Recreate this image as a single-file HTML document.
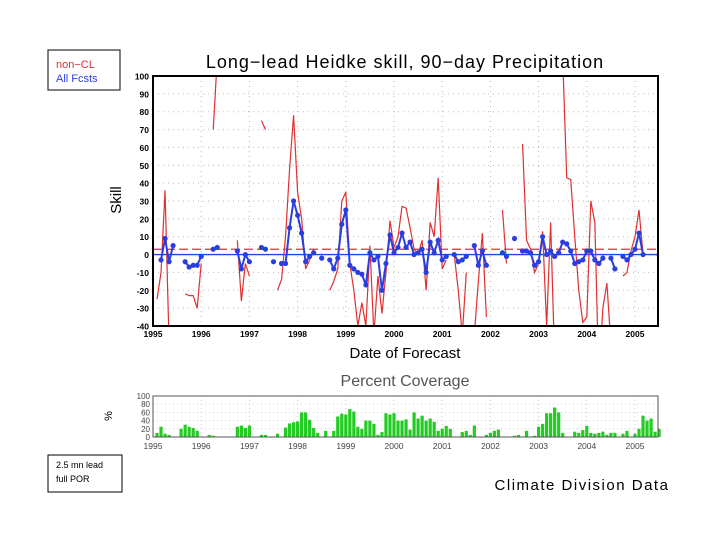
<!DOCTYPE html>
<html><head><meta charset="utf-8"><style>
body{margin:0;background:#fff;font-family:"Liberation Sans",sans-serif}
</style></head><body>
<svg id="c" width="720" height="540" xmlns="http://www.w3.org/2000/svg" font-family="Liberation Sans, sans-serif">
<rect width="720" height="540" fill="#fff"/>
<text x="405" y="68" font-size="18" text-anchor="middle" letter-spacing="1">Long−lead Heidke skill, 90−day Precipitation</text>
<g>
<rect x="48" y="50" width="72" height="40" fill="none" stroke="#000"/>
<text x="56" y="68" font-size="11" fill="#e03030">non−CL</text>
<text x="56" y="82" font-size="11" fill="#3040e0">All Fcsts</text>
</g>
<text transform="translate(121,200) rotate(-90)" font-size="15" text-anchor="middle">Skill</text>
<text x="405" y="358" font-size="15" text-anchor="middle">Date of Forecast</text>
<text x="405" y="386" font-size="16" fill="#555" text-anchor="middle">Percent Coverage</text>
<text transform="translate(112,416) rotate(-90)" font-size="11" text-anchor="middle">%</text>
<g>
<rect x="48" y="455" width="74" height="37" fill="none" stroke="#000"/>
<text x="56" y="468" font-size="9">2.5 mn lead</text>
<text x="56" y="482" font-size="9">full POR</text>
</g>
<text x="582" y="490" font-size="15" text-anchor="middle" letter-spacing="1.5">Climate Division Data</text>
<g id="main"></g>
<g id="cov"></g>
</svg>
<script>
const years=["1995","1996","1997","1998","1999","2000","2001","2002","2003","2004","2005"];
const skillTicks=[-40,-30,-20,-10,0,10,20,30,40,50,60,70,80,90,100];
const covTicks=[0,20,40,60,80,100];
const _=null;
const allFcsts=[_,_,-3,9,-4,5,_,_,-4,-7,-6,-6,-1,_,_,3,4,_,_,_,_,2,-8,0,-4,_,_,4,3,_,-4,_,-5,-5,15,30,22,12,-4,-1,1,_,-2,_,-3,-8,-2,17,25,-6,-8,-10,-11,-17,1,-3,-1,-20,-5,11,1,4,12,4,7,0,1,3,-10,7,1,8,-3,-1,_,0,-4,-3,-1,_,5,-6,2,-6,_,_,_,1,-1,_,9,_,2,2,1,-6,-4,10,0,2,-1,1,7,6,2,-5,-4,-3,2,2,-3,-5,-2,_,-2,-8,_,-1,-3,0,3,12,0,_,_,_,0];
const nonCL=[_,-25,-10,36,-50,_,_,_,-22,-23,-23,-30,-5,_,_,70,110,_,_,_,_,8,-26,-5,-12,_,_,75,70,_,_,-20,-14,10,48,78,35,20,-8,-3,3,_,_,_,-20,-15,-8,30,35,-5,-20,-40,-27,-40,5,-45,-12,-33,-10,19,4,10,27,26,15,3,0,8,-20,18,10,43,-8,-3,_,0,-20,-45,-10,_,-45,-15,12,-35,_,_,_,25,-5,_,_,_,62,8,3,-10,-5,13,-40,18,-60,_,110,43,42,10,-20,-38,-35,30,18,-70,-30,-16,-50,_,_,-12,-10,2,10,25,0,_,_,_,_];
const coverage=[0,10,25,8,5,0,0,20,30,25,22,15, 0,0,5,3,0,0,0,0,0,25,28,22, 28,0,0,5,5,0,0,8,0,23,33,36, 38,60,60,42,22,10,0,15,0,15,50,57, 55,68,62,25,20,40,40,32,5,12,58,55, 58,40,40,43,18,60,45,52,40,45,37,15, 20,27,20,0,0,12,15,5,28,0,0,5, 10,15,18,0,0,0,3,5,0,15,0,3, 25,32,58,58,72,60,10,0,0,13,10,17, 27,10,8,10,13,5,10,10,0,8,15,0, 8,20,52,40,45,13,20];
const meanNonCL=3, meanAll=0;

const NS="http://www.w3.org/2000/svg";
const X0=153,X1=658,YR=48.2;
const xm=m=>X0+m*YR/12;
const yS=v=>76+(100-v)*250/140;
const yC=v=>437-v*41/100;
function mk(t,a,p){const e=document.createElementNS(NS,t);for(const k in a)e.setAttribute(k,a[k]);p.appendChild(e);return e;}
const main=document.getElementById('main'), cov=document.getElementById('cov');
const cp=mk('clipPath',{id:'cp'},main);mk('rect',{x:X0,y:76,width:X1-X0,height:250},cp);
// grid
skillTicks.forEach(v=>{
 if(v>-40&&v<100){const g=mk('line',{x1:X0,x2:X1,y1:yS(v),y2:yS(v),stroke:'#bbb','stroke-dasharray':'1,4'},main);
 
 }
 const t=mk('text',{x:X0-4,y:yS(v)+3.5,'font-size':'8.5','font-weight':'bold','text-anchor':'end'},main);t.textContent=v;
 
 
});
years.forEach((y,i)=>{
 const x=X0+i*YR;
 if(i>0){const g=mk('line',{x1:x,x2:x,y1:76,y2:326,stroke:'#bbb','stroke-dasharray':'1,4'},main);
 
 }
 const t=mk('text',{x:x,y:337,'font-size':'8.5','font-weight':'bold','text-anchor':'middle'},main);t.textContent=y;
 
 
 const t2=mk('text',{x:x,y:449,'font-size':'8.5',fill:'#444','text-anchor':'middle'},cov);t2.textContent=y;
 
 
 if(i>0){const g2=mk('line',{x1:x,x2:x,y1:396,y2:437,stroke:'#ccc','stroke-dasharray':'1,3'},cov);
 
 }
});
function segs(arr){const out=[];let cur=[];arr.forEach((v,i)=>{if(v===null){if(cur.length)out.push(cur);cur=[];}else cur.push([xm(i),yS(v)]);});if(cur.length)out.push(cur);return out;}
const lines=mk('g',{'clip-path':'url(#cp)'},main);
const ml1=mk('line',{x1:X0,x2:X1,y1:yS(meanNonCL),y2:yS(meanNonCL),stroke:'#e03030','stroke-width':1.3,'stroke-dasharray':'9,4'},lines);


const ml2=mk('line',{x1:X0,x2:X1,y1:yS(meanAll),y2:yS(meanAll),stroke:'#3040e0','stroke-width':1.3},lines);


segs(nonCL).forEach(s=>{
 if(s.length>1){const p=mk('polyline',{points:s.map(q=>q.join(',')).join(' '),fill:'none',stroke:'#e03030','stroke-width':1.2},lines);
 
 }
});
segs(allFcsts).forEach(s=>{
 if(s.length>1){const p=mk('polyline',{points:s.map(q=>q.join(',')).join(' '),fill:'none',stroke:'#2a3ee0','stroke-width':2},lines);
 
 }
});
allFcsts.forEach((v,i)=>{if(v===null)return;
 const c=mk('circle',{cx:xm(i),cy:yS(v),r:2.6,fill:'#2a3ee0'},lines);
 
 
});
const fr=mk('rect',{x:X0,y:76,width:X1-X0,height:250,fill:'none',stroke:'#000','stroke-width':2},main);


// coverage
covTicks.forEach(v=>{
 if(v>0&&v<100){const g=mk('line',{x1:X0,x2:X1,y1:yC(v),y2:yC(v),stroke:'#ccc','stroke-dasharray':'1,3'},cov);
 
 }
 const t=mk('text',{x:X0-3,y:yC(v)+3,'font-size':'8',fill:'#444','text-anchor':'end'},cov);t.textContent=v;
 
 
});
coverage.forEach((v,i)=>{if(!v)return;
 const b=mk('rect',{x:xm(i)-1.6,y:yC(v),width:3.2,height:437-yC(v),fill:'#22cc22'},cov);
 
 
});
const cf=mk('rect',{x:X0,y:396,width:X1-X0,height:41,fill:'none',stroke:'#555','stroke-width':1},cov);


</script>
</body></html>
